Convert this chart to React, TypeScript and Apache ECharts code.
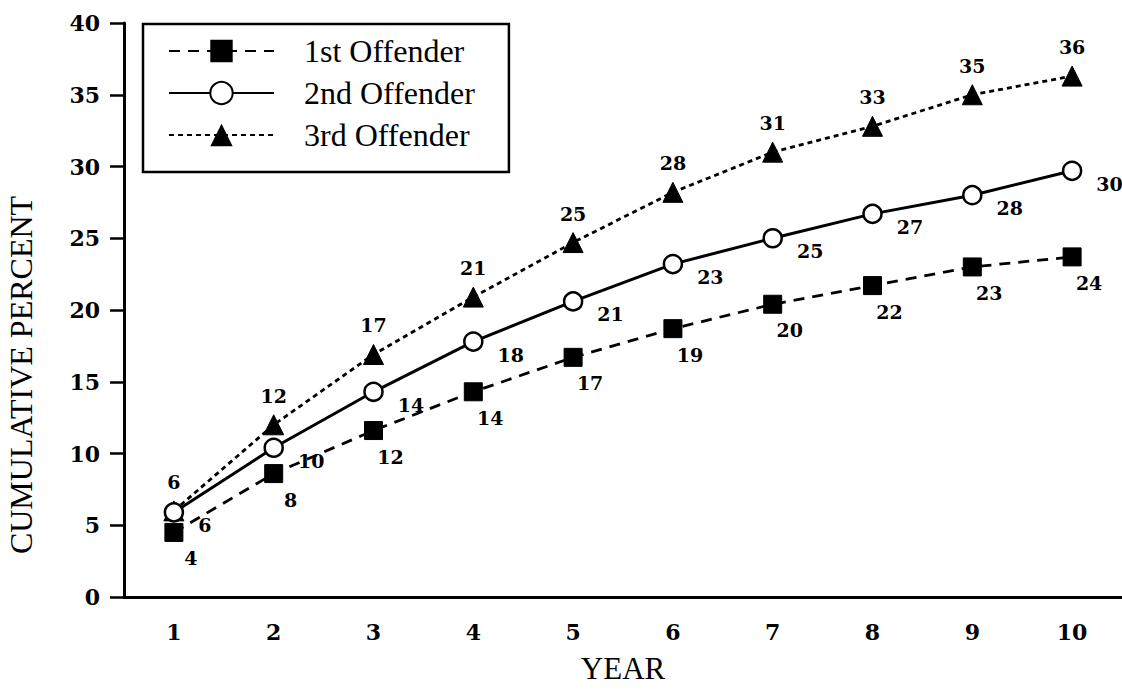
import React, { useEffect, useRef } from "react";
import * as echarts from "echarts";

const years = ["1", "2", "3", "4", "5", "6", "7", "8", "9", "10"];
const first = [4.5, 8.6, 11.6, 14.3, 16.7, 18.7, 20.4, 21.7, 23.0, 23.7];
const second = [5.9, 10.4, 14.3, 17.8, 20.6, 23.2, 25.0, 26.7, 28.0, 29.7];
const third = [6.0, 12.0, 16.9, 20.9, 24.7, 28.2, 31.0, 32.8, 35.0, 36.3];
const firstLabels = [4, 8, 12, 14, 17, 19, 20, 22, 23, 24];
const secondLabels = [6, 10, 14, 18, 21, 23, 25, 27, 28, 30];
const thirdLabels = [6, 12, 17, 21, 25, 28, 31, 33, 35, 36];
const seriesNames = ["1st Offender", "2nd Offender", "3rd Offender"];

const SERIF = "'DejaVu Serif', serif";
const TIMES = "'Liberation Serif', 'Times New Roman', serif";

export default function App() {
  const ref = useRef<HTMLDivElement>(null);
  useEffect(() => {
    if (!ref.current) return;
    const chart = echarts.init(ref.current, null, { renderer: "svg" });
    const labelStyle = {
      show: true,
      fontFamily: SERIF,
      fontSize: 19,
      fontWeight: "bold",
      color: "#000",
    };
    chart.setOption({
      animation: false,
      backgroundColor: "#fff",
      grid: { left: 124, right: 0, top: 23, bottom: 78, containLabel: false },
      legend: {
        orient: "vertical",
        left: 143,
        top: 24,
        data: seriesNames,
        itemWidth: 105,
        itemHeight: 28,
        itemGap: 10,
        padding: [11, 34, 21, 25],
        borderColor: "#000",
        borderWidth: 2.5,
        borderRadius: 0,
        textStyle: {
          fontFamily: TIMES,
          fontSize: 32,
          lineHeight: 30,
          color: "#000",
          padding: [0, 0, 0, 25],
        },
      },
      xAxis: {
        type: "category",
        data: years,
        boundaryGap: true,
        name: "YEAR",
        nameLocation: "middle",
        nameGap: 56,
        nameTextStyle: { fontFamily: TIMES, fontSize: 31, color: "#000" },
        axisLine: { lineStyle: { color: "#000", width: 3 } },
        axisTick: { alignWithLabel: true, length: 12, lineStyle: { width: 2.5, color: "#000" } },
        axisLabel: { margin: 24, fontFamily: SERIF, fontSize: 22, fontWeight: "bold", color: "#000" },
        splitLine: { show: false },
      },
      yAxis: {
        type: "value",
        min: 0,
        max: 40,
        interval: 5,
        axisLine: { show: true, lineStyle: { color: "#000", width: 3 } },
        axisTick: { show: true, length: 14, lineStyle: { width: 2.5, color: "#000" } },
        axisLabel: { margin: 24, fontFamily: SERIF, fontSize: 22, fontWeight: "bold", color: "#000" },
        splitLine: { show: false },
      },
      graphic: [
        {
          type: "text",
          x: 21,
          y: 375,
          rotation: Math.PI / 2,
          style: {
            text: "CUMULATIVE PERCENT",
            fontFamily: TIMES,
            fontSize: 32,
            fill: "#000",
            align: "center",
            verticalAlign: "middle",
          },
        },
      ],
      series: [
        {
          name: seriesNames[2],
          type: "line",
          data: third,
          symbol: "triangle",
          symbolSize: 20,
          z: 2,
          lineStyle: { color: "#000", width: 2.8, type: [5, 4] },
          itemStyle: { color: "#000", borderColor: "#000" },
          label: {
            ...labelStyle,
            position: "top",
            distance: 9,
            formatter: (p: any) => String(thirdLabels[p.dataIndex]),
          },
        },
        {
          name: seriesNames[0],
          type: "line",
          data: first,
          symbol: "rect",
          symbolSize: 18,
          z: 3,
          lineStyle: { color: "#000", width: 2.8, type: [11, 8] },
          itemStyle: { color: "#000", borderColor: "#000" },
          label: {
            ...labelStyle,
            position: "bottom",
            distance: 7,
            offset: [17, 0],
            formatter: (p: any) => String(firstLabels[p.dataIndex]),
          },
        },
        {
          name: seriesNames[1],
          type: "line",
          data: second,
          symbol: "circle",
          symbolSize: 18,
          z: 4,
          lineStyle: { color: "#000", width: 3, type: "solid" },
          itemStyle: { color: "#fff", borderColor: "#000", borderWidth: 2.5 },
          label: {
            ...labelStyle,
            position: "right",
            distance: 14,
            offset: [0, 13],
            formatter: (p: any) => String(secondLabels[p.dataIndex]),
          },
        },
      ],
    });
    return () => chart.dispose();
  }, []);
  return <div ref={ref} style={{ width: 1122, height: 689, position: "absolute", left: 0, top: 0 }} />;
}
